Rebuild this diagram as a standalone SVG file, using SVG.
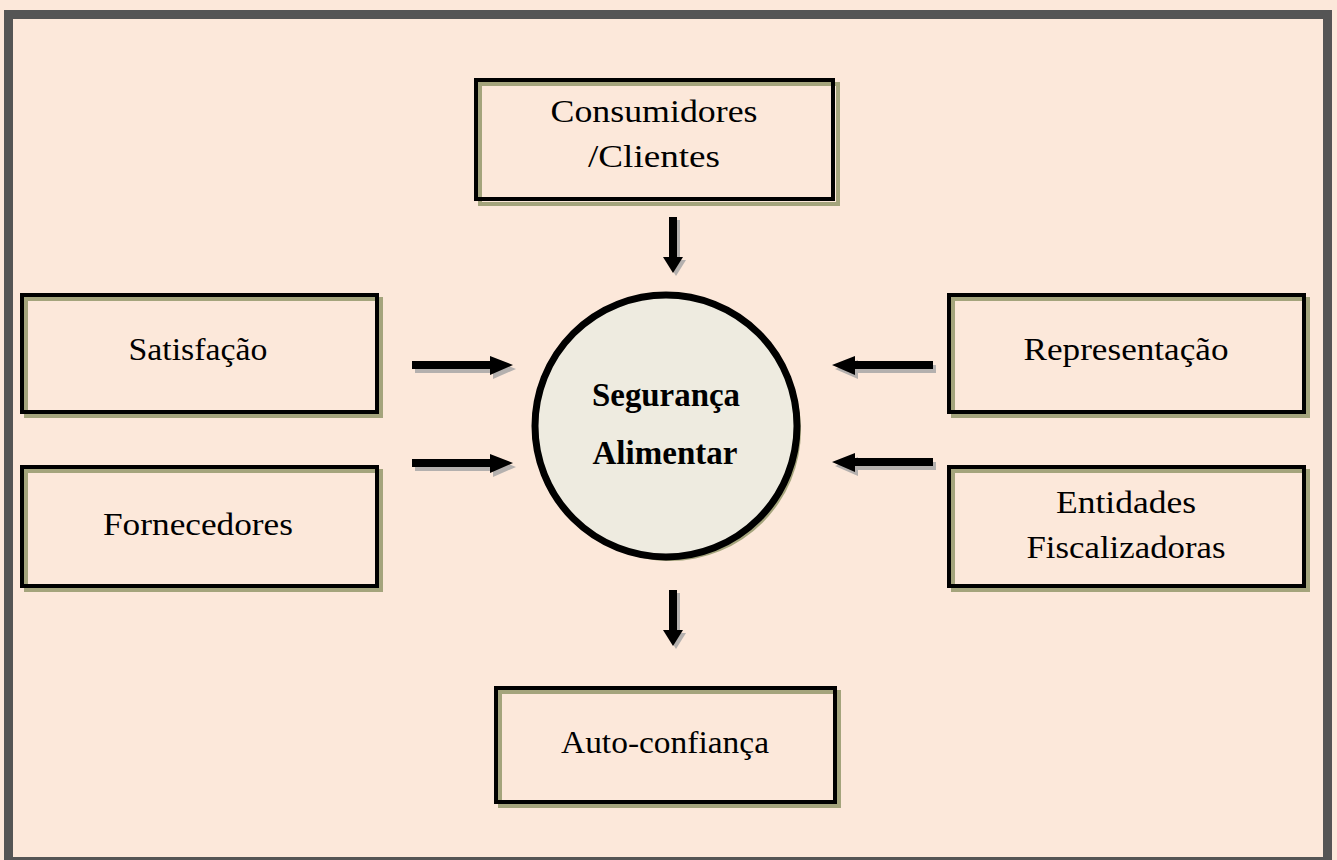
<svg xmlns="http://www.w3.org/2000/svg" width="1337" height="860" viewBox="0 0 1337 860">
<style>
.bg{fill:#fce8da}
.frame{fill:none;stroke:#555555;stroke-width:9}
.boxfill{fill:#fce8da}
.shadow{fill:none;stroke:#a4a47c;stroke-width:4}
.box{fill:none;stroke:#000;stroke-width:4}
.lbl{font-family:"Liberation Serif","Times New Roman",serif;font-size:31px;fill:#000;text-anchor:middle}
.bold{font-family:"Liberation Serif","Times New Roman",serif;font-size:33px;font-weight:bold;fill:#000;text-anchor:middle}
.arr{fill:#000}
.arrsh{fill:#b4b0ae}
</style>
<defs>
<path id="arrR" d="M0,-4 L78,-4 L78,-9 L101,0 L78,10 L78,4 L0,4 Z"/>
<path id="arrD" d="M-4,0 L-4,40 L-10,40 L0,56 L10,40 L4,40 L4,0 Z"/>
</defs>
<rect class="bg" x="0" y="0" width="1337" height="860"/>
<rect class="frame" x="8.5" y="14.5" width="1319" height="847"/>

<g id="consumidores">
<rect class="boxfill" x="476" y="80" width="357" height="119"/>
<rect class="shadow" x="480" y="84" width="358" height="120"/>
<rect class="box" x="476" y="80" width="357" height="119"/>
<text class="lbl" x="654" y="122" textLength="207" lengthAdjust="spacingAndGlyphs">Consumidores</text>
<text class="lbl" x="654" y="167" textLength="132" lengthAdjust="spacingAndGlyphs">/Clientes</text>
</g>

<g id="satisfacao">
<rect class="boxfill" x="22" y="295" width="355" height="117"/>
<rect class="shadow" x="26" y="299" width="355" height="117"/>
<rect class="box" x="22" y="295" width="355" height="117"/>
<text class="lbl" x="198" y="360" textLength="139" lengthAdjust="spacingAndGlyphs">Satisfação</text>
</g>

<g id="fornecedores">
<rect class="boxfill" x="22" y="467" width="355" height="119"/>
<rect class="shadow" x="26" y="471" width="355" height="119"/>
<rect class="box" x="22" y="467" width="355" height="119"/>
<text class="lbl" x="198" y="535" textLength="190" lengthAdjust="spacingAndGlyphs">Fornecedores</text>
</g>

<g id="representacao">
<rect class="boxfill" x="949" y="295" width="355" height="117"/>
<rect class="shadow" x="953" y="299" width="355" height="117"/>
<rect class="box" x="949" y="295" width="355" height="117"/>
<text class="lbl" x="1126" y="360" textLength="205" lengthAdjust="spacingAndGlyphs">Representação</text>
</g>

<g id="entidades">
<rect class="boxfill" x="949" y="467" width="355" height="119"/>
<rect class="shadow" x="953" y="471" width="355" height="119"/>
<rect class="box" x="949" y="467" width="355" height="119"/>
<text class="lbl" x="1126" y="513" textLength="140" lengthAdjust="spacingAndGlyphs">Entidades</text>
<text class="lbl" x="1126" y="558" textLength="199" lengthAdjust="spacingAndGlyphs">Fiscalizadoras</text>
</g>

<g id="autoconfianca">
<rect class="boxfill" x="496" y="688" width="339" height="114"/>
<rect class="shadow" x="500" y="692" width="339" height="114"/>
<rect class="box" x="496" y="688" width="339" height="114"/>
<text class="lbl" x="665" y="753" textLength="208" lengthAdjust="spacingAndGlyphs">Auto-confiança</text>
</g>

<g id="seguranca">
<circle cx="670" cy="430" r="131" fill="#a4a47c"/>
<circle cx="666" cy="426" r="131" fill="#eeebe0" stroke="#000" stroke-width="7"/>
<text class="bold" x="666" y="406" textLength="148" lengthAdjust="spacingAndGlyphs">Segurança</text>
<text class="bold" x="665" y="464" textLength="145" lengthAdjust="spacingAndGlyphs">Alimentar</text>
</g>

<g id="connectors">
<use href="#arrR" class="arrsh" transform="translate(415,369)"/>
<use href="#arrR" class="arr" transform="translate(412,365)"/>
<use href="#arrR" class="arrsh" transform="translate(415,467)"/>
<use href="#arrR" class="arr" transform="translate(412,463)"/>
<use href="#arrR" class="arrsh" transform="translate(936,369) scale(-1,1)"/>
<use href="#arrR" class="arr" transform="translate(933,365) scale(-1,1)"/>
<use href="#arrR" class="arrsh" transform="translate(936,466) scale(-1,1)"/>
<use href="#arrR" class="arr" transform="translate(933,462) scale(-1,1)"/>
<use href="#arrD" class="arrsh" transform="translate(676,220)"/>
<use href="#arrD" class="arr" transform="translate(673,217)"/>
<use href="#arrD" class="arrsh" transform="translate(676,593)"/>
<use href="#arrD" class="arr" transform="translate(673,590)"/>
</g>
</svg>
